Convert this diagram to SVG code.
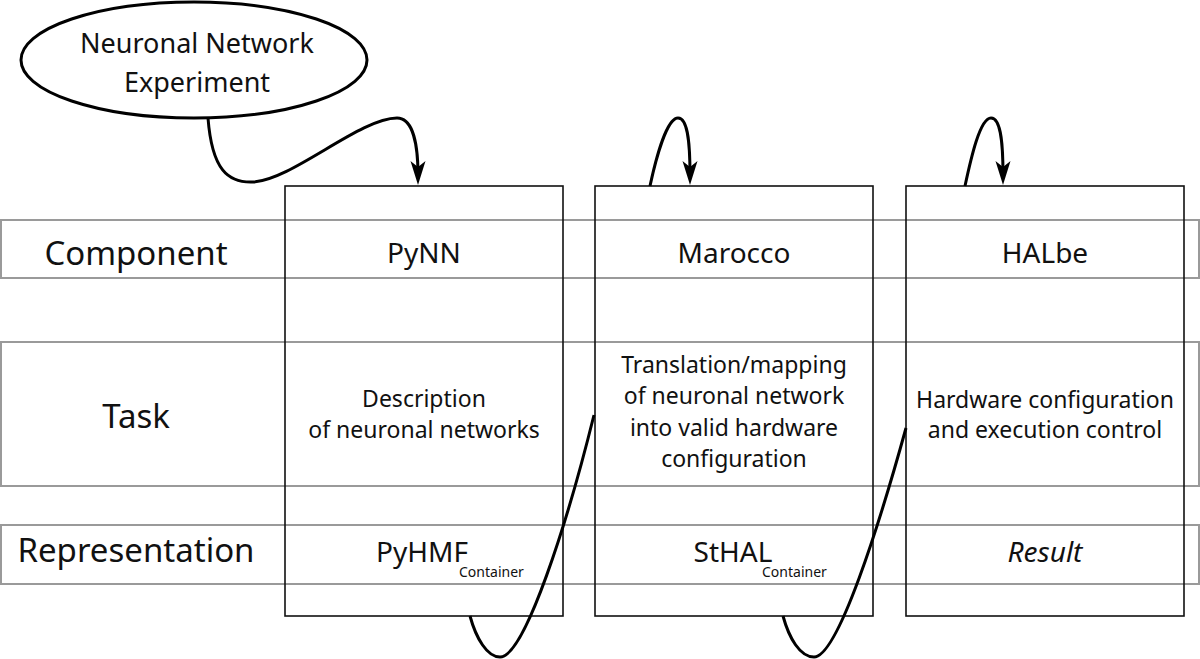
<svg xmlns="http://www.w3.org/2000/svg" width="1200" height="659" viewBox="0 0 1200 659">
<style>
text { font-family: "Noto Sans", "Open Sans", "DejaVu Sans", sans-serif; fill: #111; text-anchor: middle; }
.row { fill: none; stroke: #9a9a9a; stroke-width: 2; }
.box { fill: none; stroke: #111; stroke-width: 1.6; }
.hdr { font-size: 33px; }
.comp { font-size: 28px; }
.task { font-size: 23px; }
.rep { font-size: 28px; }
.sub { font-size: 14px; text-anchor: start; }
.conn { fill: none; stroke: #000; stroke-width: 3; }
</style>
<defs>
<marker id="arr" markerUnits="userSpaceOnUse" viewBox="-26 -9 28 18" markerWidth="28" markerHeight="18" refX="-10" refY="0" orient="auto">
<path d="M0,0 L-24,-7.5 L-18,0 L-24,7.5 Z" fill="#000"/>
</marker>
</defs>
<rect width="1200" height="659" fill="#fff"/>

<g id="row-component">
<rect class="row" x="1" y="220" width="1198" height="58"/>
<text class="hdr" x="136" y="265">Component</text>
</g>
<g id="row-task">
<rect class="row" x="1" y="342" width="1198" height="144"/>
<text class="hdr" x="136" y="428">Task</text>
</g>
<g id="row-representation">
<rect class="row" x="1" y="525" width="1198" height="59"/>
<text class="hdr" x="136" y="562">Representation</text>
</g>

<g id="experiment">
<ellipse cx="194" cy="60" rx="173" ry="58" fill="#fff" stroke="#000" stroke-width="3"/>
<text x="197" y="53" font-size="27">Neuronal Network</text>
<text x="197" y="92" font-size="27">Experiment</text>
</g>

<g id="pynn">
<rect class="box" x="285" y="186" width="278" height="430"/>
<text class="comp" x="424" y="263">PyNN</text>
<text class="task" x="424" y="407">Description</text>
<text class="task" x="424" y="438">of neuronal networks</text>
<text class="rep" x="422" y="562">PyHMF</text>
<text class="sub" x="459" y="577">Container</text>
</g>

<g id="marocco">
<rect class="box" x="595" y="186" width="278" height="430"/>
<text class="comp" x="734" y="263">Marocco</text>
<text class="task" x="734" y="373">Translation/mapping</text>
<text class="task" x="734" y="404">of neuronal network</text>
<text class="task" x="734" y="436">into valid hardware</text>
<text class="task" x="734" y="467">configuration</text>
<text class="rep" x="733" y="562">StHAL</text>
<text class="sub" x="762" y="577">Container</text>
</g>

<g id="halbe">
<rect class="box" x="906" y="186" width="278" height="430"/>
<text class="comp" x="1045" y="263">HALbe</text>
<text class="task" x="1045" y="408">Hardware configuration</text>
<text class="task" x="1045" y="438">and execution control</text>
<text class="rep" x="1045" y="562" font-style="italic">Result</text>
</g>

<g id="connectors">
<path class="conn" marker-end="url(#arr)" d="M208,118 C212,170 228,183 253,182 C292,180 360,118 397,118 C413,118 418,145 418,175"/>
<path class="conn" marker-end="url(#arr)" d="M650,186 C656,158 667,118 678,118 C689,118 690,150 690,175"/>
<path class="conn" marker-end="url(#arr)" d="M965,186 C971,158 980,118 991,118 C1002,118 1003,150 1003,175"/>
<path class="conn" d="M470,616 C476,638 487,657 500,657 C525,657 568,520 594,415"/>
<path class="conn" d="M783,616 C789,638 800,657 814,657 C838,657 880,522 906,428"/>
</g>
</svg>
